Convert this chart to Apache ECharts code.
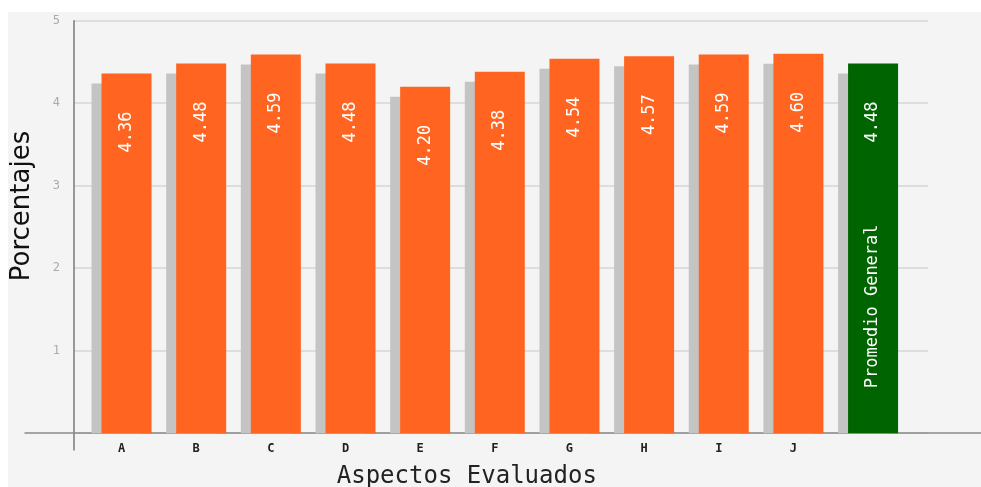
<!DOCTYPE html>
<html>
<head>
<meta charset="utf-8">
<script src="https://cdn.jsdelivr.net/npm/echarts@6/dist/echarts.min.js"></script>
<style>html,body{margin:0;padding:0;background:#fff}#c{width:981px;height:487px}</style>
</head>
<body>
<div id="c"></div>
<script>
var categories = ['A','B','C','D','E','F','G','H','I','J','Promedio General'];
var values = [4.36, 4.48, 4.59, 4.48, 4.20, 4.38, 4.54, 4.57, 4.59, 4.60, 4.48];
var yTicks = [0, 1, 2, 3, 4, 5];
var xAxisTitle = 'Aspectos Evaluados';
var yAxisTitle = 'Porcentajes';

var ORANGE = '#ff6520', GREEN = '#006400', SHADOW = '#c4c4c4';
var last = categories.length - 1;
var MONO = '"DejaVu Sans Mono", "Liberation Mono", monospace';
var chart = echarts.init(document.getElementById('c'));

var TOP = 20.7, BOTTOM = 53.8, BW = 50;

chart.setOption({
  backgroundColor: '#ffffff',
  animation: false,
  grid: [
    {left: 8, top: 12, right: 0, bottom: 0, show: true, backgroundColor: '#f4f4f4', borderWidth: 0, outerBoundsMode: 'none'},
    {left: 25, right: 0, top: TOP, bottom: BOTTOM, outerBoundsMode: 'none'},
    {left: 74, right: 53, top: TOP, bottom: BOTTOM, outerBoundsMode: 'none'},
    {left: 74, width: 10, top: TOP, bottom: 37, outerBoundsMode: 'none'},
    {left: 89.2, right: 70.6, top: TOP, bottom: BOTTOM, outerBoundsMode: 'none'}
  ],
  xAxis: [
    {gridIndex: 0, type: 'value', show: false},
    {gridIndex: 1, type: 'value', min: 0, max: 1, axisLine: {show: true, onZero: false, lineStyle: {color: '#8a8a8a', width: 1.5}}, axisTick: {show: false}, axisLabel: {show: false}, splitLine: {show: false}},
    {gridIndex: 2, type: 'value', min: 0, max: 1, show: false},
    {gridIndex: 3, type: 'value', min: 0, max: 1, show: false},
    {gridIndex: 4, type: 'category', data: categories,
      axisLine: {show: false}, axisTick: {show: false},
      axisLabel: {margin: 10, color: '#222', fontFamily: MONO, fontWeight: 'bold', fontSize: 12, padding: [0, 10, 0, 0],
        formatter: function (v, i) { return i === last ? '' : v; }},
      name: xAxisTitle, nameLocation: 'middle', nameGap: 32,
      nameTextStyle: {fontFamily: MONO, fontSize: 24, color: '#222', padding: [0, 66, 0, 0]}}
  ],
  yAxis: [
    {gridIndex: 0, type: 'value', show: false},
    {gridIndex: 1, type: 'value', show: false, min: 0, max: 5},
    {gridIndex: 2, type: 'value', min: yTicks[0], max: yTicks[yTicks.length - 1], interval: 1,
      axisLine: {show: false}, axisTick: {show: false},
      axisLabel: {margin: 14, color: '#aaaaaa', fontFamily: MONO, fontSize: 12,
        formatter: function (v) { return v === 0 ? '' : String(v); }},
      splitLine: {show: true, lineStyle: {color: '#d6d6d6', width: 1.5}}},
    {gridIndex: 3, type: 'value', min: 0, max: 1,
      axisLine: {show: true, lineStyle: {color: '#7a7a7a', width: 1.5}}, axisTick: {show: false}, axisLabel: {show: false}, splitLine: {show: false}},
    {gridIndex: 4, type: 'value', min: 0, max: 5, show: false}
  ],
  graphic: [{
    type: 'text', x: 22, y: 206, rotation: Math.PI / 2,
    style: {text: yAxisTitle, font: '26px "DejaVu Sans", sans-serif', fill: '#111', align: 'center', verticalAlign: 'middle'}
  }],
  series: [
    {
      type: 'custom', xAxisIndex: 4, yAxisIndex: 4, z: 1,
      data: values.map(function (v, i) { return [i, v]; }),
      encode: {x: 0, y: 1},
      renderItem: function (params, api) {
        var i = api.value(0), v = api.value(1);
        var top = api.coord([i, v]);
        var base = api.coord([i, 0]);
        return {type: 'rect',
          shape: {x: top[0] - BW / 2 - 10, y: top[1] + 10, width: BW, height: base[1] - top[1] - 10},
          style: {fill: SHADOW}};
      }
    },
    {
      type: 'bar', xAxisIndex: 4, yAxisIndex: 4, z: 3, barWidth: BW, barGap: '-100%',
      data: values.map(function (v, i) { return {value: v, itemStyle: {color: i === last ? GREEN : ORANGE}}; }),
      label: {show: true, position: 'insideTop', rotate: 90, align: 'right', verticalAlign: 'middle', distance: 38,
        color: '#fff', fontFamily: MONO, fontSize: 17,
        formatter: function (p) { return p.value.toFixed(2); }}
    },
    {
      type: 'bar', xAxisIndex: 4, yAxisIndex: 4, z: 4, barWidth: BW, barGap: '-100%',
      itemStyle: {color: 'rgba(0,0,0,0)'},
      data: values.map(function (v, i) { return i === last ? v : '-'; }),
      label: {show: true, position: 'insideBottom', rotate: 90, align: 'left', verticalAlign: 'middle', distance: 45,
        color: '#fff', fontFamily: MONO, fontSize: 17,
        formatter: function (p) { return categories[p.dataIndex]; }}
    }
  ]
});
</script>
</body>
</html>
